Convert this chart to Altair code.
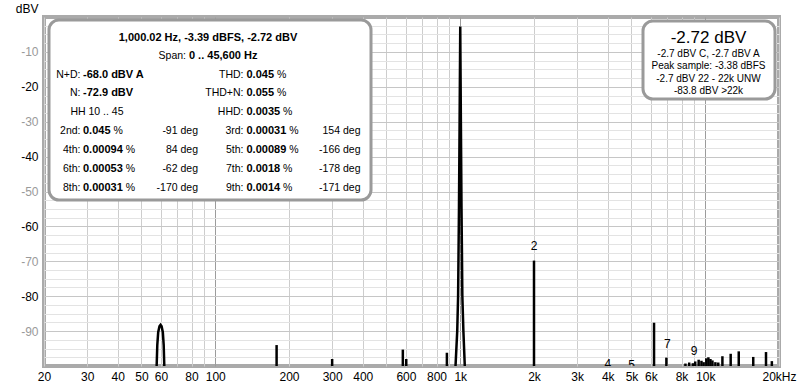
import altair as alt
import pandas as pd

# ---------------- data ----------------
# Broad spectral lobes (60 Hz hum and the 1 kHz fundamental): frequency (Hz), level (dBV)
hump_group = ["hum60"] * 9 + ["fund1k"] * 13
hump_freq = [57.6, 58.0, 58.5, 59.2, 59.8, 60.4, 61.1, 61.6, 62.0,
             955, 972, 980, 988, 994, 998, 1000, 1002, 1006, 1012, 1020, 1030, 1045]
hump_db = [-101, -94, -90.3, -88.6, -88.2, -88.6, -90.3, -94, -101,
           -101, -90, -80, -55, -30, -12, -2.72, -12, -30, -55, -80, -90, -101]

# Narrow spectral spikes: frequency (Hz), level (dBV)
spike_freq = [178, 300, 583, 602, 882, 2000, 6180, 6940,
              8300, 8600, 8900, 9100, 9400, 9650, 9850,
              10100, 10300, 10500, 10700, 11000, 11300,
              11750, 12700, 13700, 15700, 17700, 18700]
spike_db = [-94.0, -98.0, -95.3, -98.0, -96.2, -69.8, -87.6, -97.6,
            -99.3, -99.0, -99.2, -98.7, -98.2, -98.5, -98.9,
            -97.8, -97.5, -98.0, -98.4, -98.9, -99.0,
            -97.2, -96.5, -95.8, -97.4, -96.0, -98.6]

# Harmonic markers that reach the visible range
harm_label = ["1", "2", "4", "5", "7", "9"]
harm_freq = [1000, 2000, 4000, 5000, 7000, 9000]
harm_db = [-2.72, -69.7, -103.3, -103.7, -97.6, -99.8]

# Axis ticks
x_grid = [20, 30, 40, 50, 60, 70, 80, 90,
          100, 200, 300, 400, 500, 600, 700, 800, 900,
          1000, 2000, 3000, 4000, 5000, 6000, 7000, 8000, 9000,
          10000, 20000]
x_labeled = [20, 30, 40, 50, 60, 80, 100, 200, 300, 400, 600, 800,
             1000, 2000, 3000, 4000, 5000, 6000, 8000, 10000, 20000]
y_grid = [-97.5, -95, -92.5, -90, -87.5, -85, -82.5, -80, -77.5, -75, -72.5, -70,
          -67.5, -65, -62.5, -60, -57.5, -55, -52.5, -50, -47.5, -45, -42.5, -40,
          -37.5, -35, -32.5, -30, -27.5, -25, -22.5, -20, -17.5, -15, -12.5, -10,
          -7.5, -5, -2.5]

# Info panel texts
header_line = "1,000.02 Hz, -3.39 dBFS, -2.72 dBV"
span_label = "Span:"
span_value = "0 .. 45,600 Hz"
left_stats = [("N+D:", "-68.0 dBV A"), ("N:", "-72.9 dBV")]
hh_text = "HH 10 .. 45"
right_stats = [("THD:", "0.045"), ("THD+N:", "0.055"), ("HHD:", "0.0035")]
harm_names = ["2nd", "3rd", "4th", "5th", "6th", "7th", "8th", "9th"]
harm_pct = ["0.045", "0.00031", "0.00094", "0.00089", "0.00053", "0.0018", "0.00031", "0.0014"]
harm_phase = ["-91", "154", "84", "-166", "-62", "-178", "-170", "-171"]

level_title = "-2.72 dBV"
level_lines = ["-2.7 dBV C, -2.7 dBV A", "Peak sample: -3.38 dBFS",
               "-2.7 dBV 22 - 22k UNW", "-83.8 dBV >22k"]

# ---------------- layout ----------------
FONT = "Liberation Sans"
PX0, PY0 = 44, 17          # plot origin in the page
W, H = 735, 349

REG = {' ': 278, '.': 278, ',': 278, '-': 333, '%': 889, ':': 278, '+': 584,
       'H': 722, 'z': 500, 'd': 556, 'B': 667, 'F': 611, 'S': 667, 'V': 667,
       'A': 667, 'N': 722, 'D': 722, 'T': 611}
BOLD = {' ': 278, '.': 278, ',': 278, '-': 333, '%': 889, ':': 333,
        'H': 722, 'z': 500, 'd': 611, 'B': 722, 'F': 611, 'S': 667, 'V': 667, 'A': 722}


def tw(s, size, bold=False):
    table = BOLD if bold else REG
    return sum(table.get(c, 556) for c in s) * size / 1000.0


recs = []


def add(x, y, text, align="left", bold=False, size=10.5):
    recs.append(dict(px=x - PX0, py=y - PY0, t=text, align=align,
                     w="bold" if bold else "normal", fs=size))


ROW_Y = [37.5, 56, 74.5, 93, 111.5, 130.5, 149.5, 168.5, 187.5]
CX = 208
add(CX, ROW_Y[0], header_line, "center", True, 11)
wl = tw(span_label + " ", 10.5)
wv = tw(span_value, 11, True)
sx = CX - (wl + wv) / 2
add(sx, ROW_Y[1], span_label)
add(sx + wl, ROW_Y[1], span_value, "left", True, 11)

LAB_A, VAL_A, PH_A = 80.5, 83, 198
LAB_B, VAL_B, PH_B = 243.5, 246.5, 360.5
for i, (lab, val) in enumerate(left_stats):
    add(LAB_A, ROW_Y[2 + i], lab, "right")
    add(VAL_A, ROW_Y[2 + i], val, "left", True, 11)
add(97, ROW_Y[4], hh_text, "center")
for i, (lab, val) in enumerate(right_stats):
    add(LAB_B, ROW_Y[2 + i], lab, "right")
    add(VAL_B, ROW_Y[2 + i], val, "left", True, 11)
    add(VAL_B + tw(val, 11, True) + tw(" ", 10.5), ROW_Y[2 + i], "%")
for i, name in enumerate(harm_names):
    row = ROW_Y[5 + i // 2]
    lab_x, val_x, ph_x = (LAB_A, VAL_A, PH_A) if i % 2 == 0 else (LAB_B, VAL_B, PH_B)
    add(lab_x, row, name + ":", "right")
    add(val_x, row, harm_pct[i], "left", True, 11)
    add(val_x + tw(harm_pct[i], 11, True) + tw(" ", 10.5), row, "%")
    add(ph_x, row, harm_phase[i] + " deg", "right")

RCX = 708.5
add(RCX, 38, level_title, "center", False, 17)
for j, line in enumerate(level_lines):
    add(RCX, 54 + j * 12.4, line, "center", False, 10)

text_df = pd.DataFrame(recs)
boxes_df = pd.DataFrame({
    "x1": [49 - PX0, 643 - PX0], "x2": [371 - PX0, 775 - PX0],
    "y1": [20 - PY0, 21 - PY0], "y2": [200 - PY0, 99 - PY0],
})

hump_df = pd.DataFrame({"g": hump_group, "f": hump_freq, "db": hump_db})
spike_df = pd.DataFrame({"f": spike_freq, "db": spike_db})
harm_df = pd.DataFrame({"lab": harm_label, "f": harm_freq, "db": harm_db})

xscale = alt.Scale(type="log", domain=[20, 20000], nice=False)
yscale = alt.Scale(domain=[-100, 0], nice=False, zero=False)

lab_list = ",".join(str(v) for v in x_labeled)
x_axis = alt.Axis(
    values=x_grid, title=None, labelOverlap=False, labelFlush=False,
    labelExpr=("indexof([" + lab_list + "], datum.value) < 0 ? '' : "
               "datum.value >= 20000 ? '20kHz' : datum.value >= 1000 ? "
               "(datum.value / 1000) + 'k' : '' + datum.value"),
    gridColor={"condition": {"test": "datum.value == 100 || datum.value == 1000 || datum.value == 10000",
                             "value": "#9c9c9c"}, "value": "#cdcdcd"},
    labelPadding=5, labelFontSize=12, labelColor="#000000", labelFont=FONT,
)
y_axis = alt.Axis(
    values=y_grid, title="dBV", titleAngle=0, titleAlign="right", titleBaseline="middle",
    titleX=-6, titleY=-9, titleFontSize=12, titleFontWeight="normal", titleFont=FONT,
    titleColor="#000000", labelOverlap=False, labelFlush=False,
    labelExpr="datum.value % 10 == 0 ? '' + datum.value : ''",
    labelColor={"condition": {"test": "datum.value % 20 == 0", "value": "#000000"},
                "value": "#9a9a9a"},
    gridColor={"condition": {"test": "datum.value % 10 == 0", "value": "#c6c6c6"},
               "value": "#e3e3e3"},
    labelPadding=6, labelFontSize=12, labelFont=FONT,
)

humps = alt.Chart(hump_df).mark_line(color="black", strokeWidth=2.5, clip=True).encode(
    x=alt.X("f:Q", scale=xscale, axis=x_axis),
    y=alt.Y("db:Q", scale=yscale, axis=y_axis),
    detail="g:N",
)
spikes = alt.Chart(spike_df).mark_rule(color="black", strokeWidth=2.5, clip=True).encode(
    x=alt.X("f:Q", scale=xscale, axis=None),
    y=alt.Y("db:Q", scale=yscale, axis=None),
    y2=alt.datum(-100),
)
harm_text = alt.Chart(harm_df).mark_text(
    font=FONT, fontSize=12, color="black", baseline="bottom", dy=-7, clip=True
).encode(
    x=alt.X("f:Q", scale=xscale, axis=None),
    y=alt.Y("db:Q", scale=yscale, axis=None),
    text="lab:N",
)
boxes = alt.Chart(boxes_df).mark_rect(
    fill="white", stroke="#9a9a9a", strokeWidth=3, cornerRadius=10
).encode(
    x=alt.X("x1:Q", scale=None, axis=None), x2="x2:Q",
    y=alt.Y("y1:Q", scale=None, axis=None), y2="y2:Q",
)

text_layers = []
for (align, weight), sub in text_df.groupby(["align", "w"]):
    text_layers.append(
        alt.Chart(sub).mark_text(font=FONT, align=align, fontWeight=weight,
                                 baseline="middle", color="black").encode(
            x=alt.X("px:Q", scale=None, axis=None),
            y=alt.Y("py:Q", scale=None, axis=None),
            text="t:N", size=alt.Size("fs:Q", scale=None, legend=None),
        )
    )

chart = alt.layer(humps, spikes, harm_text, boxes, *text_layers).properties(
    width=W, height=H,
    autosize=alt.AutoSizeParams(type="none"),
    padding={"left": PX0, "top": PY0, "right": 800 - PX0 - W, "bottom": 390 - PY0 - H},
    background="white",
).resolve_axis(
    x="independent", y="independent"
).configure_view(
    stroke="#aaaaaa", strokeWidth=4
).configure_axis(
    domain=False, ticks=False,
)

chart.save("out.html", embed_options={"renderer": "svg", "actions": False})
